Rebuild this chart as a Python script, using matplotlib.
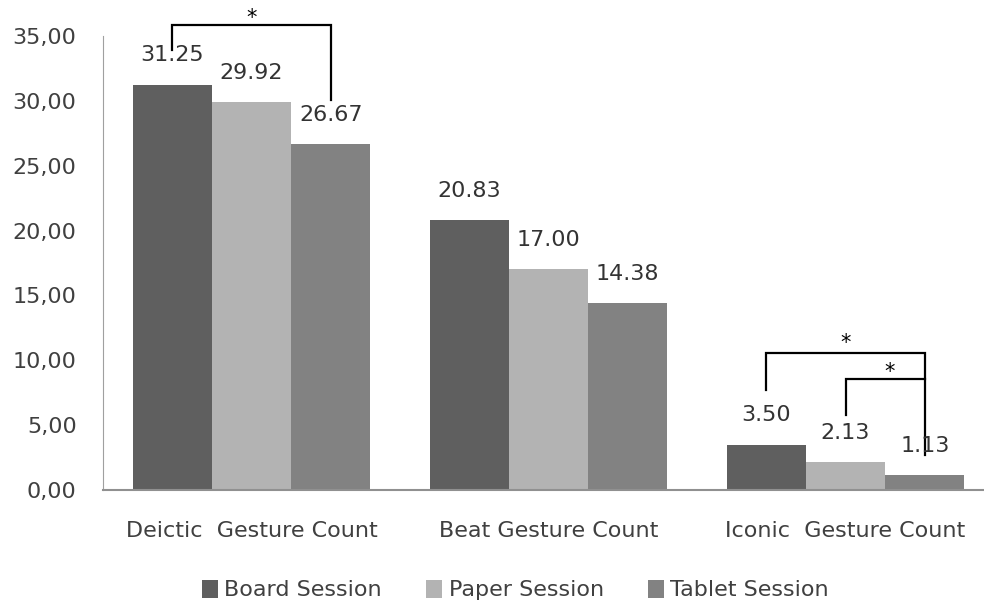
import numpy as np
import matplotlib
matplotlib.use("Agg")
import matplotlib.pyplot as plt

categories = ["Deictic  Gesture Count", "Beat Gesture Count", "Iconic  Gesture Count"]
sessions = ["Board Session", "Paper Session", "Tablet Session"]
board = [31.25, 20.83, 3.50]
paper = [29.92, 17.00, 2.13]
tablet = [26.67, 14.38, 1.13]
colors = ["#5f5f5f", "#b3b3b3", "#828282"]

plt.rcParams["font.family"] = "DejaVu Sans"
fig = plt.figure(figsize=(9.84, 6.02), dpi=100)
ax = fig.add_axes([103 / 984, 1 - 490 / 602, (984 - 103) / 984, (490 - 36) / 602])

x = np.arange(len(categories))
w = 0.267
series = [board, paper, tablet]
for i, (vals, name, c) in enumerate(zip(series, sessions, colors)):
    pos = x + (i - 1) * w
    ax.bar(pos, vals, width=w, color=c, label=name, edgecolor="none")
    for px, v in zip(pos, vals):
        ax.annotate(f"{v:.2f}", (px, v), xytext=(0, 21), textcoords="offset points",
                    ha="center", va="center", fontsize=16, color="#333333")

ax.set_ylim(0, 35)
ax.set_xlim(-0.5, 2.5 - 10 / 297)
ax.set_yticks(np.arange(0, 36, 5))
ax.set_yticklabels([f"{t:.2f}".replace(".", ",") for t in np.arange(0, 36, 5)])
ax.set_xticks(x)
ax.set_xticklabels(categories)
ax.tick_params(axis="y", length=0, pad=19, labelsize=16, labelcolor="#404040")
ax.tick_params(axis="x", length=0, pad=22, labelsize=16, labelcolor="#404040")
for s in ["top", "right"]:
    ax.spines[s].set_visible(False)
ax.spines["left"].set_color("#a0a0a0")
ax.spines["bottom"].set_color("#909090")
ax.spines["bottom"].set_linewidth(1.5)


def bracket(x1, x2, y1, y2, top, star_x, star_y):
    ax.plot([x1, x1, x2, x2], [y1, top, top, y2], color="black", lw=1.6,
            clip_on=False, solid_joinstyle="miter")
    ax.text(star_x, star_y, "*", ha="center", va="center", fontsize=15, clip_on=False)


# significance brackets
bracket(x[0] - w, x[0] + w, 33.9, 30.1, 35.85, x[0], 36.4)
bracket(x[2] - w, x[2] + w, 7.7, 2.7, 10.56, x[2], 11.3)
bracket(x[2], x[2] + w, 5.8, 8.56, 8.56, x[2] + w * 0.55, 9.1)

fig.legend(loc="center", bbox_to_anchor=(0.524, 1 - 590 / 602), ncol=3, frameon=False,
           fontsize=16, handlelength=0.7, handleheight=0.9, handletextpad=0.3,
           columnspacing=2.0, labelcolor="#404040")

fig.savefig("out.png", dpi=100)
